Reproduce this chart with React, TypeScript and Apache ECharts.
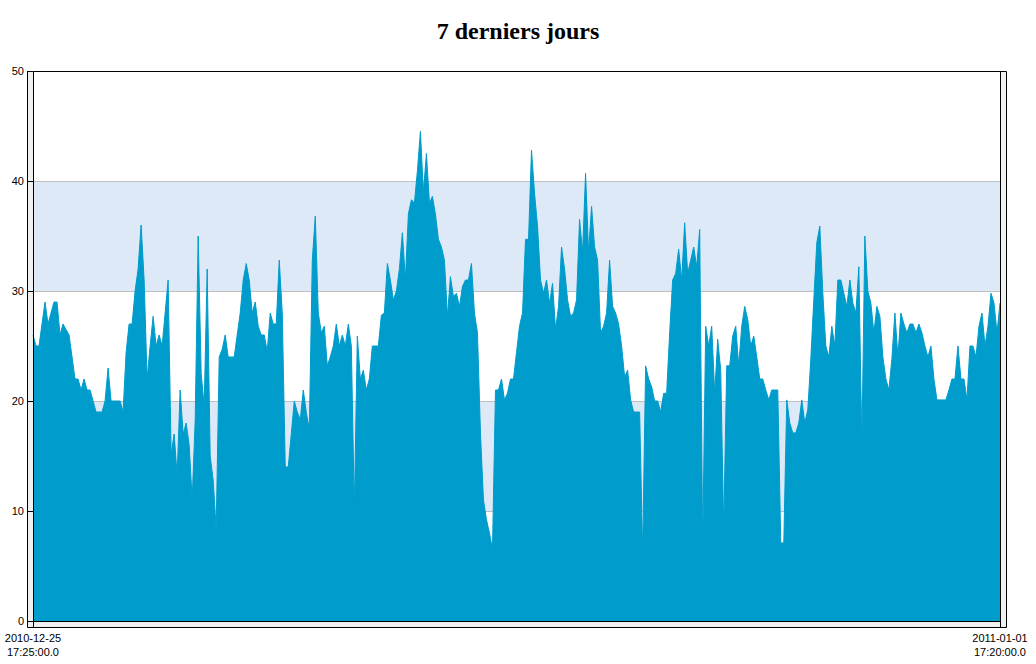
import React, { useEffect, useRef } from "react";
import * as echarts from "echarts";

const titleText = "7 derniers jours";
const xLabels = ["2010-12-25\n17:25:00.0", "2011-01-01\n17:20:00.0"];
const yMin = 0;
const yMax = 50;
const yStep = 10;

// values sampled left to right, 2010-12-25 17:25 -> 2011-01-01 17:20
const part1: number[] = [
  26, 25, 25, 27, 29, 27, 28, 29, 29, 26, 27, 26.5, 26, 24, 22, 22, 21, 22, 21, 21,
  20, 19, 19, 19, 20, 23, 20, 20, 20, 20, 19, 24.4, 27, 27, 30, 32, 36, 31, 22, 25,
  27.7, 25, 26, 25, 28, 31, 15.1, 17, 13.2, 21, 17, 18, 16, 11, 18.2, 35, 22.5, 19.5, 32, 15,
  12.8, 8.3, 24, 24.7, 26, 24, 24, 24, 26, 28, 31, 32.5, 31, 28, 29, 26.8, 26, 26, 24.5, 28,
  27, 27, 32.8,
];
const part2: number[] = [
  28, 14, 14, 17, 20, 19, 18.3, 21, 19, 17.4, 32.8, 36.8, 28, 26.2, 26.8, 23.2, 24, 25, 27, 25,
  26, 25, 27, 25, 10.1, 25.9, 22, 22.8, 21, 22, 25, 25, 25, 27.8, 28, 32.5, 31, 29.2, 30, 32,
  35.3, 31, 37, 38.3, 38, 40.9, 44.5, 39, 42.5, 38, 38.6, 37, 34.7, 34, 32.8, 27.7, 31.3, 29.5, 29.8, 28.6,
  30.4, 31, 31, 32.5, 28, 26.2, 17.1, 11, 9.2, 8, 6.5, 21, 21, 22, 20.1, 20.7, 22, 22, 24.4, 26.8,
  28, 34.7, 34.7,
];
const part3: number[] = [
  42.8, 38.9, 35.9, 31, 29.8, 31, 28.9, 30.7, 26.5, 28.6, 34, 32, 29.2, 27.7, 28, 29.2, 36.5, 33.5, 40.7, 33.5,
  37.7, 34, 32.8, 26.2, 26.8, 28, 32.8, 28.6, 28, 27, 25, 22.2, 22.8, 20.1, 19, 19, 19, 6.2, 23.2, 22,
  21.3, 20, 20, 19, 20.7, 20.7, 26.2, 31, 31.6, 33.8, 31, 36.2, 31.6, 32.8, 34, 32.2, 35.6, 6.8, 26.8, 25,
  26.8, 20.7, 25.6, 22.8, 8.3, 23.2, 23.2, 25.9, 26.8, 23.2, 26.8, 28.6, 27.4, 25, 25.9, 24, 22, 22, 21, 20.1,
  21, 21, 21,
];
const part4: number[] = [
  7.1, 7.1, 20.1, 18, 17.1, 17.1, 18, 20.1, 18, 19.2, 23.8, 29.2, 34.4, 35.9, 29.8, 25, 24, 26.8, 25, 31,
  31, 29.8, 28.6, 31, 28.9, 28, 32.2, 15.9, 35, 30, 28.9, 26.2, 28.6, 27.7, 24, 22, 21, 23.8, 28, 24,
  28, 27, 26.2, 27, 27, 26.2, 27, 26.2, 25, 24, 25, 22, 20.1, 20.1, 20.1, 20.1, 21, 22, 22, 25,
  22, 22, 20.1, 25, 25, 24, 26.8, 28, 25, 26.8, 29.8, 28.9, 26.2, 28.9,
];
const values: number[] = [...part1, ...part2, ...part3, ...part4];

const AREA_COLOR = "#009ccc";
const BAND_COLOR = "#dee9f7";

export default function App() {
  const ref = useRef<HTMLDivElement>(null);
  useEffect(() => {
    if (!ref.current) return;
    const chart = echarts.init(ref.current, undefined, { renderer: "svg" });
    const n = values.length;
    const gl = 33, gt = 71, gw = 967, gh = 550;
    chart.setOption({
      animation: false,
      backgroundColor: "#fff",
      title: {
        text: titleText,
        left: "center",
        top: 14,
        textStyle: {
          fontFamily: "'Liberation Serif', 'Times New Roman', serif",
          fontWeight: "bold",
          fontSize: 24,
          color: "#000",
        },
      },
      grid: { left: gl, top: gt, width: gw, height: gh, show: true, backgroundColor: "#fff", borderWidth: 0 },
      xAxis: {
        type: "value",
        min: 0,
        max: n - 1,
        interval: n - 1,
        axisLine: { show: false },
        axisTick: { show: true, length: 6, lineStyle: { color: "#000" } },
        splitLine: { show: false },
        axisLabel: {
          showMinLabel: true,
          showMaxLabel: true,
          hideOverlap: false,
          formatter: (v: number) => (v === 0 ? xLabels[0] : xLabels[1]),
          fontFamily: "'Liberation Sans', Arial, sans-serif",
          fontSize: 11,
          lineHeight: 14,
          margin: 10,
          color: "#000",
        },
      },
      yAxis: {
        type: "value",
        min: yMin,
        max: yMax,
        interval: yStep,
        axisLine: { show: false },
        axisTick: { show: true, length: 6, lineStyle: { color: "#000" } },
        splitLine: { show: true, lineStyle: { color: "#bfbfbf", width: 1 } },
        splitArea: { show: true, areaStyle: { color: ["rgba(255,255,255,0)", BAND_COLOR] } },
        axisLabel: {
          fontFamily: "'Liberation Sans', Arial, sans-serif",
          fontSize: 11,
          margin: 9,
          color: "#000",
        },
      },
      graphic: [
        {
          type: "rect",
          z: -10,
          silent: true,
          shape: { x: 27.5, y: 71.5, width: 979, height: 556 },
          style: { fill: "#f0f0f0", stroke: "#000", lineWidth: 1 },
        },
        {
          type: "rect",
          z: 100,
          silent: true,
          shape: { x: 33.5, y: 71.5, width: 967, height: 550 },
          style: { fill: "none", stroke: "#000", lineWidth: 1 },
        },
      ],
      series: [
        {
          type: "line",
          data: values.map((v, i) => [i, v]),
          symbol: "none",
          showSymbol: false,
          lineStyle: { color: AREA_COLOR, width: 1 },
          itemStyle: { color: AREA_COLOR },
          areaStyle: { color: AREA_COLOR, opacity: 1 },
          z: 2,
        },
      ],
    });
    return () => chart.dispose();
  }, []);
  return (
    <div
      ref={ref}
      style={{ position: "fixed", left: 0, top: 0, width: 1036, height: 664 }}
    />
  );
}
